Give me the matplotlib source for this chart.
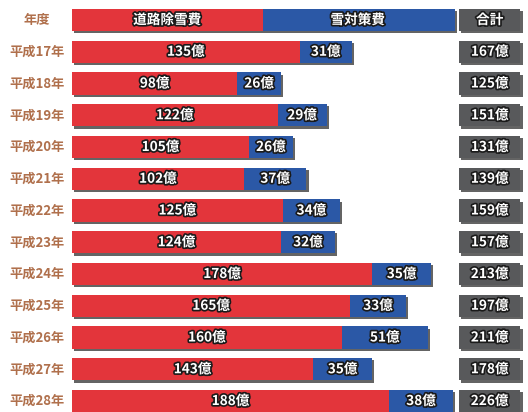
import numpy as np
import matplotlib.pyplot as plt
import matplotlib.patheffects as pe

plt.rcParams['font.family'] = ['Noto Sans CJK JP', 'DejaVu Sans']

years = ['平成17年', '平成18年', '平成19年', '平成20年', '平成21年', '平成22年',
         '平成23年', '平成24年', '平成25年', '平成26年', '平成27年', '平成28年']
road = [135, 98, 122, 105, 102, 125, 124, 178, 165, 160, 143, 188]
snow = [31, 26, 29, 26, 37, 34, 32, 35, 33, 51, 35, 38]
total = [167, 125, 151, 131, 139, 159, 157, 213, 197, 211, 178, 226]
headers = ['年度', '道路除雪費', '雪対策費', '合計']

red = '#e3353b'
blue = '#2b58a6'
grey = '#58595b'
label_col = '#b0704c'

fig = plt.figure(figsize=(5.28, 4.12), dpi=100)
ax = fig.add_axes([0, 0, 1, 1])

px = 1.686  # pixels per 億
ax.set_xlim(-72 / px, (528 - 72) / px)
ax.set_ylim(412 / 31.75 - 20 / 31.75, -20 / 31.75)
ax.axis('off')

shadow = [pe.SimplePatchShadow(offset=(1.6, -1.6), shadow_rgbFace='#222222', alpha=0.7), pe.Normal()]
stroke = [pe.withStroke(linewidth=2.4, foreground='#1a1a1a')]
h = 0.7
tot_left, tot_w = 229.5, 36.5
half = max(total) / 2
fs = 9.8

# header row
ax.barh(0, half, left=0, height=h, color=red, path_effects=shadow)
ax.barh(0, max(total) - half + 1, left=half, height=h, color=blue, path_effects=shadow)
ax.barh(0, tot_w, left=tot_left, height=h, color=grey, path_effects=shadow)
ax.text(37 / 528, 0, headers[0], transform=ax.get_yaxis_transform(), ha='center', va='center',
        fontsize=9.5, fontweight='bold', color=label_col)
for xc, s in [(half / 2, headers[1]), (half * 1.5, headers[2]), (tot_left + tot_w / 2, headers[3])]:
    ax.text(xc, 0, s, ha='center', va='center', fontsize=fs, fontweight='bold',
            color='white', path_effects=stroke)

y = np.arange(1, len(years) + 1)
ax.barh(y, road, height=h, color=red, path_effects=shadow)
ax.barh(y, snow, left=road, height=h, color=blue, path_effects=shadow)
ax.barh(y, [tot_w] * len(y), left=tot_left, height=h, color=grey, path_effects=shadow)

for i in range(len(years)):
    ax.text(37 / 528, y[i], years[i], transform=ax.get_yaxis_transform(), ha='center', va='center',
            fontsize=9.5, fontweight='bold', color=label_col)
    ax.text(road[i] / 2, y[i], f'{road[i]}億', ha='center', va='center', fontsize=fs,
            fontweight='bold', color='white', path_effects=stroke)
    ax.text(road[i] + snow[i] / 2, y[i], f'{snow[i]}億', ha='center', va='center', fontsize=fs,
            fontweight='bold', color='white', path_effects=stroke)
    ax.text(tot_left + tot_w / 2, y[i], f'{total[i]}億', ha='center', va='center', fontsize=fs,
            fontweight='bold', color='white', path_effects=stroke)

fig.savefig('out.png', dpi=100)
